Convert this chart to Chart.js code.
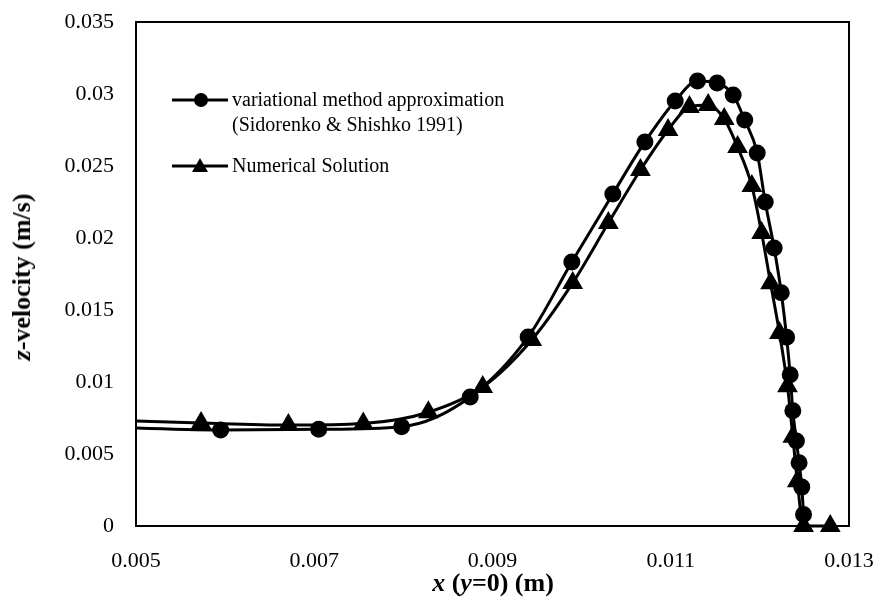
<!DOCTYPE html>
<html>
<head>
<meta charset="utf-8">
<script src="https://cdn.jsdelivr.net/npm/chart.js@4"></script>
<style>
  html, body { margin: 0; padding: 0; background: #fff; }
  #wrap { position: relative; width: 881px; height: 601px; font-family: "Liberation Serif", "Times New Roman", serif; color: #000; }
  #c { position: absolute; left: 0; top: 0; }
  .ttl { position: absolute; font-weight: bold; font-size: 26px; white-space: nowrap; line-height: 1; }
  #ytitle { left: 22px; top: 277px; transform: translate(-50%, -50%) rotate(-90deg); }
  #xtitle { left: 493px; top: 583px; transform: translate(-50%, -50%); }
  .legend { position: absolute; left: 172px; font-size: 20px; line-height: 25px; }
  .legend .row { position: relative; padding-left: 60px; white-space: nowrap; }
  .legend svg { position: absolute; left: 0; top: 3px; }
</style>
</head>
<body>
<div id="wrap">
  <canvas id="c" width="881" height="601"></canvas>
  <div class="ttl" id="ytitle"><i>z</i>-velocity (m/s)</div>
  <div class="ttl" id="xtitle"><i>x</i> (<i>y</i>=0) (m)</div>
  <div class="legend" style="top:87px">
    <div class="row">
      <svg width="58" height="20"><line x1="0" y1="10" x2="56" y2="10" stroke="#000" stroke-width="3"/><circle cx="29" cy="10" r="7" fill="#000"/></svg>
      variational method approximation<br>(Sidorenko &amp; Shishko 1991)
    </div>
  </div>
  <div class="legend" style="top:153px">
    <div class="row">
      <svg width="58" height="20"><line x1="0" y1="10" x2="56" y2="10" stroke="#000" stroke-width="3"/><polygon points="28,2 36,16 20,16" fill="#000"/></svg>
      Numerical Solution
    </div>
  </div>
</div>
<script>
// Variational method approximation (Sidorenko & Shishko 1991): x (m), z-velocity (m/s)
const varX = [0.0045, 0.00595, 0.00705, 0.00798, 0.00875, 0.00940, 0.00989, 0.01035, 0.01071, 0.01105,
              0.01130, 0.01152, 0.01170, 0.01183, 0.01197, 0.01206, 0.01216, 0.01224, 0.01230, 0.01234,
              0.01237, 0.01241, 0.01244, 0.01247, 0.01249];
const varY = [0.0069, 0.00667, 0.00672, 0.00690, 0.00896, 0.01313, 0.01833, 0.02306, 0.02667, 0.02951,
              0.03090, 0.03076, 0.02993, 0.02819, 0.02590, 0.02250, 0.01930, 0.01620, 0.01310, 0.01050,
              0.00800, 0.00590, 0.00440, 0.00270, 0.00080];

// Numerical solution
const numX = [0.0045, 0.00573, 0.00671, 0.00755, 0.00828, 0.00889, 0.00944, 0.00990, 0.01030, 0.01066,
              0.01097, 0.01121, 0.01142, 0.01160, 0.01175, 0.01191, 0.01202, 0.01212, 0.01222, 0.01231,
              0.01237, 0.01242, 0.01249, 0.01279];
const numY = [0.0074, 0.00715, 0.00701, 0.00712, 0.00790, 0.00965, 0.01292, 0.01688, 0.02104, 0.02472,
              0.02750, 0.02910, 0.02924, 0.02826, 0.02632, 0.02361, 0.02035, 0.01685, 0.01340, 0.00970,
              0.00620, 0.00310, 0, 0];

// Axis tick values
const xTicks = [0.005, 0.007, 0.009, 0.011, 0.013];
const yTicks = [0, 0.005, 0.01, 0.015, 0.02, 0.025, 0.03, 0.035];

const pts = (xs, ys) => xs.map((x, i) => ({ x: x, y: ys[i] }));
const serif = '"Liberation Serif", "Times New Roman", serif';

// Box around the plot area
const frame = {
  id: 'frame',
  afterDraw(chart) {
    const a = chart.chartArea, ctx = chart.ctx;
    ctx.save();
    ctx.strokeStyle = '#000';
    ctx.lineWidth = 2;
    ctx.strokeRect(a.left, a.top, a.right - a.left, a.bottom - a.top);
    ctx.restore();
  }
};

const fmt = v => String(+Number(v).toFixed(4));

new Chart(document.getElementById('c'), {
  type: 'line',
  data: {
    datasets: [
      {
        label: 'variational method approximation (Sidorenko & Shishko 1991)',
        data: pts(varX, varY),
        borderColor: '#000', backgroundColor: '#000', borderWidth: 3,
        pointStyle: 'circle', pointRadius: 7, pointHoverRadius: 7,
        cubicInterpolationMode: 'monotone',
        clip: { left: 0, top: false, right: false, bottom: false }
      },
      {
        label: 'Numerical Solution',
        data: pts(numX, numY),
        borderColor: '#000', backgroundColor: '#000', borderWidth: 3,
        pointStyle: 'triangle', pointRadius: 9, pointHoverRadius: 9,
        cubicInterpolationMode: 'monotone',
        clip: { left: 0, top: false, right: false, bottom: false }
      }
    ]
  },
  options: {
    responsive: false,
    animation: false,
    devicePixelRatio: 1,
    layout: { padding: { left: 0, right: 32, top: 22, bottom: 0 } },
    plugins: { legend: { display: false }, tooltip: { enabled: false } },
    scales: {
      x: {
        type: 'linear',
        min: xTicks[0], max: xTicks[xTicks.length - 1],
        afterBuildTicks: s => { s.ticks = xTicks.map(v => ({ value: v })); },
        afterFit: s => { s.height = 75; s.paddingLeft = 0; s.paddingRight = 0; },
        grid: { display: false, drawTicks: false },
        border: { display: true, color: '#000', width: 2 },
        ticks: { color: '#000', padding: 22, maxRotation: 0, font: { family: serif, size: 22 }, callback: fmt }
      },
      y: {
        type: 'linear',
        min: yTicks[0], max: yTicks[yTicks.length - 1],
        afterBuildTicks: s => { s.ticks = yTicks.map(v => ({ value: v })); },
        afterFit: s => { s.width = 136; s.paddingTop = 0; s.paddingBottom = 0; },
        grid: { display: false, drawTicks: false },
        border: { display: true, color: '#000', width: 2 },
        ticks: { color: '#000', padding: 22, font: { family: serif, size: 22 }, callback: fmt }
      }
    }
  },
  plugins: [frame]
});
</script>
</body>
</html>
